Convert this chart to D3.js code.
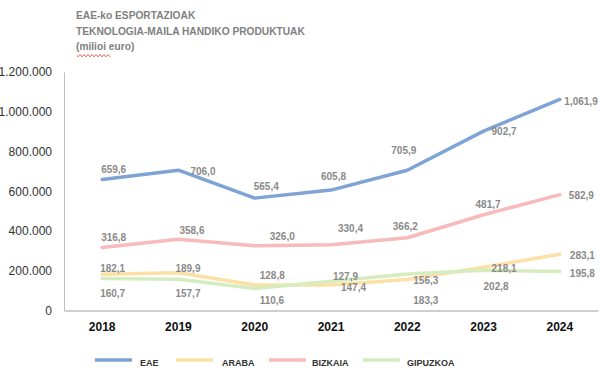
<!DOCTYPE html>
<html>
<head>
<meta charset="utf-8">
<script src="https://cdn.jsdelivr.net/npm/d3@7"></script>
<style>
  html, body { margin: 0; padding: 0; background: #ffffff; }
  svg { display: block; font-family: "Liberation Sans", Arial, sans-serif; }
</style>
</head>
<body>
<svg id="chart" width="600" height="382"></svg>
<script>
// ---- data ----
const years = ["2018", "2019", "2020", "2021", "2022", "2023", "2024"];
const seriesNames = ["EAE", "ARABA", "BIZKAIA", "GIPUZKOA"];
const eae      = [659.6, 706.0, 565.4, 605.8, 705.9, 902.7, 1061.9];
const araba    = [182.1, 189.9, 128.8, 127.9, 156.3, 218.1, 283.1];
const bizkaia  = [316.8, 358.6, 326.0, 330.4, 366.2, 481.7, 582.9];
const gipuzkoa = [160.7, 157.7, 110.6, 147.4, 183.3, 202.8, 195.8];
const yTicks = [0, 200000, 400000, 600000, 800000, 1000000, 1200000];
const titleLines = ["EAE-ko ESPORTAZIOAK", "TEKNOLOGIA-MAILA HANDIKO PRODUKTUAK", "(milioi euro)"];

// ---- layout / style ----
const colors = { EAE: "#7ea3d5", ARABA: "#fde0a6", BIZKAIA: "#f8baba", GIPUZKOA: "#d5edbe" };
// label offsets (dx, dy) from the point, left aligned
const labelOffsets = {
  EAE:      [[-1,-10],[12,1.5],[-1,-12],[-10,-13.5],[-16,-20],[8,0.5],[4.5,2]],
  ARABA:    [[-2,-6],[-3,-4.5],[5,-9],[2,-9],[6,1.3],[8,1],[10,1]],
  BIZKAIA:  [[-1,-10],[1,-8.5],[15,-9],[7,-16.5],[-14.5,-11],[-8,-10],[9,1]],
  GIPUZKOA: [[-2,14.7],[-3,14],[5,11.5],[10,6.5],[6,26],[0,16.5],[10,1.7]]
};
const margin = { left: 64, right: 2, top: 72, bottom: 310.5 };

const svg = d3.select("#chart");
const W = 600;

const x = d3.scaleBand().domain(years).range([margin.left, W - margin.right]);
const y = d3.scaleLinear().domain([0, 1200000]).range([margin.bottom, margin.top]);
const cx = d => x(d) + x.bandwidth() / 2;

const dataMap = { EAE: eae, ARABA: araba, BIZKAIA: bizkaia, GIPUZKOA: gipuzkoa };

// title
const title = svg.append("g").attr("fill", "#808080").attr("font-weight", "bold").attr("font-size", "10.2px");
titleLines.forEach((t, i) => {
  title.append("text").attr("x", 76).attr("y", 15.7 + i * 15.5).attr("dy", "0.35em").text(t);
});
// spell-check squiggle under "milioi"
{
  let p = "M77,55.5";
  for (let xx = 77; xx < 111; xx += 2) p += ` L${xx + 1},${(xx - 77) % 4 === 0 ? 56.8 : 54.5}`;
  svg.append("path").attr("d", p).attr("fill", "none").attr("stroke", "#e03030").attr("stroke-width", 0.8);
}

// y axis
const yAxis = d3.axisLeft(y).tickValues(yTicks).tickSize(0).tickPadding(12)
  .tickFormat(v => d3.format(",")(v).replace(/,/g, "."));
const gy = svg.append("g").attr("transform", `translate(${margin.left},0)`).call(yAxis);
gy.select(".domain").attr("stroke", "#bfbfbf").attr("stroke-width", 1);
gy.selectAll("text").attr("font-size", "12px").attr("fill", "#333333")
  .attr("font-family", "'Liberation Sans', Arial, sans-serif");

// x axis
const xAxis = d3.axisBottom(x).tickSize(0).tickPadding(12);
const gx = svg.append("g").attr("transform", `translate(0,${margin.bottom})`).call(xAxis);
gx.select(".domain").attr("stroke", "#bfbfbf").attr("stroke-width", 1.3);
gx.selectAll("text").attr("font-size", "12px").attr("font-weight", "bold").attr("fill", "#111111")
  .attr("font-family", "'Liberation Sans', Arial, sans-serif");

// lines
const line = d3.line().x((d, i) => cx(years[i])).y(d => y(d * 1000));
seriesNames.forEach(name => {
  svg.append("path").datum(dataMap[name])
    .attr("d", line).attr("fill", "none")
    .attr("stroke", colors[name]).attr("stroke-width", 3.5)
    .attr("stroke-linejoin", "round").attr("stroke-linecap", "round");
});

// labels
const fmt = v => d3.format(",.1f")(v).replace(".", "#").replace("#", ",");
seriesNames.forEach(name => {
  svg.append("g").selectAll("text").data(dataMap[name]).join("text")
    .attr("x", (d, i) => cx(years[i]) + labelOffsets[name][i][0])
    .attr("y", (d, i) => y(d * 1000) + labelOffsets[name][i][1])
    .attr("dy", "0.35em")
    .attr("font-size", "10px").attr("font-weight", "bold").attr("fill", "#8a8a8a")
    .text(d => fmt(d));
});

// legend
const legendX = { EAE: [95, 140], ARABA: [176, 222], BIZKAIA: [269, 312], GIPUZKOA: [363, 407] };
const lg = svg.append("g");
seriesNames.forEach(name => {
  const [lx, tx] = legendX[name];
  lg.append("line").attr("x1", lx).attr("x2", lx + 37).attr("y1", 360).attr("y2", 360)
    .attr("stroke", colors[name]).attr("stroke-width", 3.5);
  lg.append("text").attr("x", tx).attr("y", 363).attr("dy", "0.35em")
    .attr("font-size", "9px").attr("font-weight", "bold").attr("fill", "#333333").text(name);
});
</script>
</body>
</html>
